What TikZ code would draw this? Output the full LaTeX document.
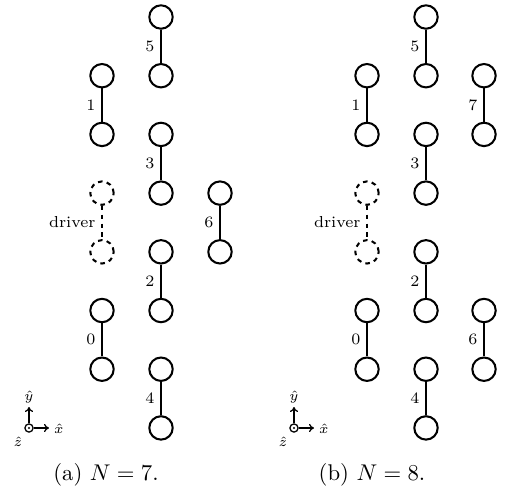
\documentclass[tikz,border=0pt]{standalone}
\usetikzlibrary{arrows.meta}
\tikzset{
  site/.style={draw, circle, minimum size=10.3pt, inner sep=0pt, line width=0.9pt},
  drv/.style={site, dash pattern=on 2pt off 1.9pt},
  bond/.style={line width=0.9pt},
  drvbond/.style={line width=0.9pt, dash pattern=on 2pt off 1.9pt},
  lab/.style={left, inner sep=2.4pt, font=\scriptsize},
  axis/.style={line width=0.55pt, -{To[length=2.2pt,width=3.6pt]}},
  axlab/.style={inner sep=0pt, font=\fontsize{6}{7}\selectfont},
  capt/.style={anchor=base, inner sep=0pt, font=\normalsize}
}
\newcommand\dimerpair[4]{%
  \node[site] (#1t) at (#2,#3) {};
  \node[site] (#1b) at (#2,#3+58.7) {};
  \draw[bond] (#1t) -- node[lab]{#4} (#1b);}
\newcommand\driverpair[3]{%
  \node[drv] (#1t) at (#2,#3) {};
  \node[drv] (#1b) at (#2,#3+58.7) {};
  \draw[drvbond] (#1t) -- node[lab]{driver} (#1b);}
\newcommand\axesat[3]{%
  \node[circle, draw, line width=0.55pt, minimum size=3.6pt, inner sep=0pt] (#1o) at (#2,#3) {};
  \fill (#2,#3) circle (0.5pt);
  \coordinate (#1x) at (#2+20,#3);
  \coordinate (#1y) at (#2,#3-21);
  \draw[axis] (#1o) -- (#1x);
  \draw[axis] (#1o) -- (#1y);
  \node[axlab] (#1xl) at (#2+30,#3+1) {$\hat{x}$};
  \node[axlab] (#1yl) at (#2,#3-31) {$\hat{y}$};
  \node[axlab] (#1zl) at (#2-11,#3+14) {$\hat{z}$};}
\begin{document}
\begin{tikzpicture}[x=0.44pt, y=-0.44pt]
\useasboundingbox (0,0) rectangle (506,489);
% panel (a)
\dimerpair{aF}{161}{17}{5}
\dimerpair{aA}{102}{75.7}{1}
\dimerpair{aD}{161}{134.4}{3}
\driverpair{aR}{102}{193.1}
\dimerpair{aG}{220}{193.1}{6}
\dimerpair{aC}{161}{251.8}{2}
\dimerpair{aZ}{102}{310.5}{0}
\dimerpair{aE}{161}{369.2}{4}
\axesat{aax}{29}{428}
\node[capt] (capa) at (106,480) {(a) $N=7$.};
% panel (b)
\dimerpair{bF}{426}{17}{5}
\dimerpair{bA}{367}{75.7}{1}
\dimerpair{bH}{484}{75.7}{7}
\dimerpair{bD}{426}{134.4}{3}
\driverpair{bR}{367}{193.1}
\dimerpair{bC}{426}{251.8}{2}
\dimerpair{bZ}{367}{310.5}{0}
\dimerpair{bG}{484}{310.5}{6}
\dimerpair{bE}{426}{369.2}{4}
\axesat{bax}{294}{428}
\node[capt] (capb) at (372,480) {(b) $N=8$.};
\end{tikzpicture}
\end{document}
